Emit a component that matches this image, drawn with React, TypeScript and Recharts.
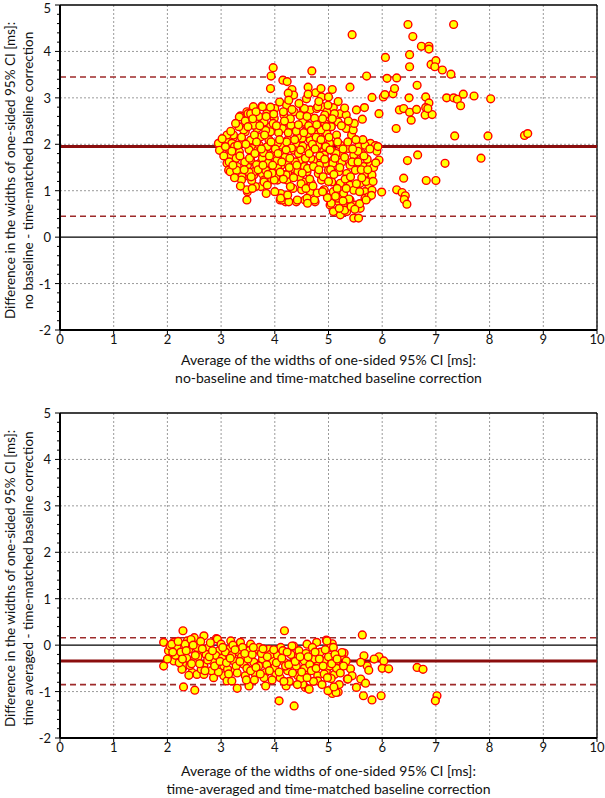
import React from "react";
import {
  ScatterChart,
  Scatter,
  XAxis,
  YAxis,
  CartesianGrid,
  ReferenceLine,
  Label,
} from "recharts";

// [average, difference] pairs
const topPoints: [number, number][] = [
  [6.48, 4.58], [7.33, 4.58], [5.44, 4.36], [6.57, 4.32], [6.73, 4.11], [6.87, 4.11], [6.87, 4.05],
  [6.06, 3.87], [6.51, 3.93], [6.51, 3.67], [6.91, 3.72], [7.0, 3.8], [6.98, 3.67], [7.12, 3.6],
  [7.28, 3.51], [4.69, 3.58], [5.71, 3.47], [6.09, 3.42], [6.27, 3.43], [6.65, 3.27], [5.4, 3.23],
  [4.62, 3.23], [5.07, 3.18], [4.76, 3.11], [4.86, 3.2], [4.87, 3.02], [5.0, 3.02], [4.59, 2.98],
  [5.81, 3.01], [6.02, 3.02], [6.05, 3.07], [6.2, 3.09], [6.23, 3.2], [6.5, 3.0], [6.81, 3.02],
  [6.87, 2.89], [7.2, 3.0], [7.33, 3.0], [7.4, 2.97], [7.46, 2.83], [7.51, 3.08], [7.71, 3.04],
  [8.02, 2.98], [6.32, 2.74], [6.4, 2.77], [6.51, 2.69], [6.64, 2.75], [6.54, 2.52], [6.81, 2.79],
  [6.8, 2.63], [6.93, 2.64], [6.85, 2.77], [5.52, 2.74], [5.67, 2.79], [5.63, 2.54], [5.94, 2.66],
  [6.26, 2.34], [7.35, 2.18], [7.97, 2.18], [8.65, 2.19], [8.71, 2.23], [6.66, 1.77], [6.47, 1.65],
  [7.17, 1.59], [7.84, 1.7], [6.82, 1.22], [7.0, 1.22], [6.4, 1.27], [6.27, 1.02], [6.37, 0.96],
  [6.43, 0.89], [6.41, 0.81], [6.46, 0.71], [5.99, 0.97], [5.94, 1.66], [5.78, 2.02], [5.89, 1.96],
  [4.53, 2.77], [4.66, 2.74], [4.78, 2.77], [4.88, 2.81], [4.97, 2.7], [5.09, 2.79], [5.22, 2.66],
  [5.33, 2.63], [4.56, 2.52], [4.74, 2.56], [4.93, 2.45], [5.05, 2.38], [5.18, 2.48], [5.33, 2.34],
  [5.43, 2.2], [5.46, 2.31], [4.59, 2.31], [4.81, 2.23], [4.97, 2.23], [4.51, 2.13], [4.66, 2.09],
  [4.85, 2.05], [5.03, 2.02], [5.22, 1.98], [5.37, 1.91], [5.56, 1.95], [5.68, 1.98], [5.87, 1.97],
  [4.69, 1.88], [4.91, 1.84], [5.09, 1.84], [5.25, 1.8], [5.47, 1.77], [5.62, 1.8], [4.53, 1.62],
  [4.72, 1.66], [4.94, 1.59], [5.09, 1.66], [5.25, 1.62], [5.4, 1.55], [5.53, 1.62], [5.65, 1.52],
  [5.78, 1.55], [4.6, 1.41], [4.81, 1.37], [5.0, 1.44], [5.19, 1.41], [5.34, 1.37], [5.5, 1.44],
  [5.68, 1.37], [5.81, 1.34], [4.53, 1.19], [4.68, 1.16], [4.87, 1.23], [5.06, 1.19], [5.22, 1.16],
  [5.4, 1.12], [5.59, 1.16], [5.75, 1.12], [4.66, 0.98], [4.91, 1.01], [5.09, 0.98], [5.28, 0.94],
  [5.47, 1.01], [5.68, 0.98], [5.81, 1.01], [4.56, 0.8], [4.75, 0.76], [5.03, 0.69], [5.19, 0.76],
  [5.28, 0.66], [5.4, 0.8], [5.5, 0.69], [5.59, 0.62], [5.68, 0.84], [5.75, 0.87], [5.22, 0.48],
  [5.47, 0.41], [5.56, 0.41], [5.34, 0.55], [5.09, 0.55],
  [3.97, 3.65], [3.93, 3.47], [3.92, 3.2], [4.15, 3.38], [4.23, 3.35], [4.32, 3.18], [4.35, 3.06],
  [4.25, 3.1], [3.36, 2.61], [3.48, 2.7], [3.6, 2.81], [3.76, 2.82], [4.09, 2.91], [2.95, 2.02],
  [2.97, 1.87], [3.11, 1.59], [3.14, 1.44], [3.11, 2.09], [3.23, 2.15], [3.42, 1.3], [3.49, 0.98],
  [3.48, 0.8], [3.84, 0.94], [4.1, 0.8], [4.19, 0.87], [4.2, 0.76], [4.4, 0.76], [3.92, 1.23],
  [4.05, 1.23], [3.77, 1.36], [3.74, 1.09], [4.23, 1.23], [4.34, 1.05], [3.5, 2.66], [3.34, 2.59],
  [3.63, 2.52], [3.85, 2.66], [4.22, 2.84], [4.0, 2.77], [3.23, 2.2], [3.45, 2.27], [3.67, 2.34],
  [3.92, 2.38], [4.14, 2.41], [4.36, 2.38], [4.55, 2.45], [3.14, 1.91], [3.34, 1.84], [3.58, 1.91],
  [3.86, 1.94], [4.13, 1.98], [4.41, 1.98], [3.3, 1.52], [3.49, 1.55], [3.72, 1.59], [3.9, 1.52],
  [4.12, 1.55], [4.33, 1.48], [4.55, 1.52], [3.17, 1.41], [3.39, 1.3], [3.61, 1.34], [3.8, 1.23],
  [4.02, 1.3], [4.24, 1.37], [4.46, 1.3], [3.48, 1.02], [3.64, 1.09], [4.11, 0.94], [4.14, 0.8],
  [4.26, 0.76], [4.6, 0.84], [4.29, 1.09], [4.5, 1.02], [3.11, 2.2], [3.2, 2.02], [3.17, 1.73],
  [3.29, 1.44], [3.38, 1.23], [3.55, 2.66], [3.77, 2.81], [3.42, 2.31], [3.61, 2.41], [3.8, 2.48],
  [3.99, 2.56], [4.17, 2.63], [4.36, 2.7], [4.55, 2.77], [4.8, 2.81], [4.99, 2.84], [3.55, 2.09],
  [3.74, 2.16], [3.92, 2.27], [4.14, 2.34], [4.3, 2.41], [4.52, 2.48], [4.74, 2.56], [4.93, 2.63],
  [5.11, 2.66], [3.68, 1.87], [3.86, 1.95], [4.05, 2.02], [4.24, 2.09], [4.42, 2.16], [4.61, 2.23],
  [4.86, 2.31], [5.05, 2.38], [3.55, 1.66], [3.77, 1.7], [3.96, 1.77], [4.17, 1.8], [4.36, 1.87],
  [4.58, 1.91], [4.8, 1.98], [5.02, 2.02], [3.61, 1.41], [3.83, 1.44], [4.05, 1.52], [4.24, 1.59],
  [4.46, 1.66], [4.67, 1.7], [4.92, 1.77], [5.14, 1.8], [3.8, 1.19], [3.99, 1.23], [4.21, 1.34],
  [4.43, 1.41], [4.61, 1.48], [4.83, 1.55], [5.08, 1.59], [4.11, 0.84], [4.24, 0.91], [4.42, 0.8],
  [4.61, 0.73], [4.74, 0.8], [4.92, 1.02], [5.05, 0.73], [5.17, 0.84], [5.3, 0.58], [5.42, 0.66],
  [3.05, 1.75], [3.02, 2.12], [3.25, 1.95], [3.28, 1.7], [3.33, 2.38], [3.4, 2.05], [3.44, 1.62],
  [3.52, 1.88], [3.57, 1.22], [3.62, 2.2], [3.66, 1.56], [3.7, 2.6], [3.71, 1.98], [3.79, 1.82],
  [3.83, 2.3], [3.88, 1.6], [3.89, 2.1], [3.95, 1.38], [3.97, 2.45], [4.01, 1.9], [4.04, 1.65],
  [4.07, 2.25], [4.1, 1.4], [4.16, 2.7], [4.19, 1.72], [4.22, 2.05], [4.27, 1.5], [4.29, 2.55],
  [4.31, 1.92], [4.38, 1.62], [4.4, 2.28], [4.44, 1.8], [4.47, 2.62], [4.49, 1.15], [4.52, 1.96],
  [4.57, 1.7], [4.63, 2.4], [4.65, 1.25], [4.7, 2.0], [4.72, 1.52], [4.77, 2.15], [4.79, 0.95],
  [4.84, 1.75], [4.89, 2.55], [4.9, 1.3], [4.95, 1.95], [4.98, 0.85], [5.01, 2.15], [5.04, 1.45],
  [5.12, 1.7], [5.15, 2.2], [5.16, 1.05], [5.2, 0.62], [5.27, 1.9], [5.31, 1.25], [5.36, 2.05],
  [5.38, 0.82], [5.44, 1.62], [5.48, 2.45], [5.52, 1.15], [5.55, 1.85], [5.58, 0.72], [5.61, 1.45],
  [5.64, 2.1], [5.7, 1.2], [5.72, 1.68], [5.8, 0.9], [5.84, 1.5], [5.9, 1.85], [3.58, 1.05],
  [3.86, 1.12], [4.0, 0.98], [3.45, 2.5], [3.65, 2.7], [3.92, 2.8], [4.26, 2.95], [4.45, 2.88],
  [4.62, 3.08], [4.82, 2.92], [5.18, 2.92], [5.3, 2.78], [3.15, 1.62], [3.2, 1.85], [3.25, 1.28],
  [3.36, 1.1], [3.52, 1.4],
  [3.08, 1.95], [3.18, 2.28], [3.22, 1.55], [3.27, 2.45], [3.31, 1.98], [3.35, 1.75], [3.38, 2.15],
  [3.43, 1.45], [3.46, 2.0], [3.5, 2.38], [3.53, 1.7], [3.56, 1.3], [3.59, 2.55], [3.63, 1.8],
  [3.66, 2.05], [3.69, 1.45], [3.72, 2.4], [3.75, 1.9], [3.78, 1.55], [3.81, 2.2], [3.84, 2.6],
  [3.87, 1.35], [3.9, 1.75], [3.93, 2.05], [3.96, 1.55], [3.98, 2.65], [4.03, 2.4], [4.06, 1.8],
  [4.09, 2.1], [4.13, 1.62], [4.16, 1.25], [4.18, 2.5], [4.21, 1.88], [4.25, 2.25], [4.28, 1.7],
  [4.32, 2.75], [4.35, 1.28], [4.37, 2.1], [4.41, 1.55], [4.44, 2.42], [4.48, 1.88], [4.51, 1.38],
  [4.54, 2.25], [4.58, 1.05], [4.6, 2.6], [4.64, 1.8], [4.68, 2.3], [4.71, 1.1], [4.75, 1.9],
  [4.78, 2.42], [4.82, 1.45], [4.86, 2.1], [4.89, 0.98], [4.93, 1.68], [4.96, 2.38], [5.0, 1.2],
  [5.03, 1.88], [5.07, 2.55], [5.1, 1.35], [5.13, 0.88], [5.17, 2.05], [5.21, 1.5], [5.24, 2.4],
  [5.27, 0.78], [5.3, 1.72], [5.33, 1.05], [5.37, 2.5], [5.41, 1.3], [5.45, 1.9], [5.49, 0.6],
  [5.51, 2.1], [5.55, 1.62], [5.58, 0.98], [5.62, 1.28], [5.66, 1.75], [5.7, 0.8], [5.73, 1.45],
  [5.77, 1.9], [5.83, 1.2], [5.88, 1.6], [5.92, 1.95],
];

const bottomPoints: [number, number][] = [
  [1.93, -0.45], [2.29, 0.31], [2.3, -0.9], [2.51, -0.97], [3.3, -0.93], [4.08, -1.2], [4.36, -1.31],
  [4.18, 0.31], [4.35, -0.02], [1.93, 0.06], [2.68, 0.2], [2.91, 0.14], [2.29, -0.48], [2.46, -0.59],
  [2.55, -0.63], [5.63, 0.22], [4.96, 0.11], [5.07, 0.03], [5.04, -0.05], [5.29, -0.17], [5.24, -0.23],
  [5.66, -0.23], [5.94, -0.25], [5.85, -0.3], [6.03, -0.34], [6.0, -0.5], [6.12, -0.51], [5.72, -0.45],
  [5.75, -0.54], [5.6, -0.37], [5.41, -0.51], [5.44, -0.66], [5.35, -0.73], [5.6, -0.73], [5.69, -0.82],
  [6.65, -0.48], [6.76, -0.52], [5.65, -1.09], [5.98, -1.09], [5.81, -1.18], [7.02, -1.09], [6.99, -1.2],
  [5.07, -1.04], [5.18, -1.01], [4.57, -0.91], [4.63, -0.94],
  [2.12, 0.06], [2.37, 0.09], [2.5, 0.16], [2.93, 0.13], [3.18, 0.09], [3.36, 0.06], [3.55, 0.02],
  [2.02, -0.12], [2.21, -0.2], [2.4, -0.09], [2.59, -0.16], [2.77, -0.05], [2.96, -0.12], [3.15, -0.09],
  [3.33, -0.16], [3.52, -0.12], [3.67, -0.09], [2.12, -0.34], [2.3, -0.41], [2.49, -0.34], [2.68, -0.45],
  [2.86, -0.37], [3.05, -0.45], [3.24, -0.34], [3.42, -0.41], [3.61, -0.37], [2.27, -0.52], [2.68, -0.63],
  [2.86, -0.7], [3.05, -0.66], [3.24, -0.55], [3.45, -0.66], [3.64, -0.63], [3.11, -0.77], [3.2, -0.77],
  [3.52, -0.88], [3.71, -0.05], [3.89, -0.09], [4.11, -0.05], [4.32, -0.02], [4.6, 0.02], [4.78, 0.06],
  [4.97, 0.09], [5.09, -0.05], [5.25, -0.16], [3.77, -0.3], [3.96, -0.34], [4.18, -0.37], [4.36, -0.27],
  [4.55, -0.34], [4.74, -0.3], [4.92, -0.34], [5.14, -0.37], [5.33, -0.34], [3.83, -0.59], [4.02, -0.63],
  [4.24, -0.55], [4.43, -0.66], [4.61, -0.59], [4.8, -0.66], [4.96, -0.55], [5.11, -0.63], [3.83, -0.88],
  [4.21, -0.88], [4.52, -0.84], [4.64, -0.95], [4.8, -0.77], [4.99, -0.98], [5.14, -1.02], [5.36, -0.73],
  [5.52, -0.91],
  [2.05, -0.02], [2.15, -0.22], [2.18, -0.05], [2.25, -0.15], [2.33, 0.02], [2.36, -0.28], [2.42, -0.44],
  [2.44, 0.12], [2.55, -0.05], [2.57, -0.25], [2.62, 0.08], [2.63, -0.52], [2.72, -0.2], [2.75, -0.32],
  [2.8, 0.05], [2.82, -0.55], [2.9, -0.22], [2.95, -0.58], [3.0, 0.02], [3.02, -0.28], [3.08, -0.15],
  [3.12, -0.52], [3.2, -0.22], [3.22, 0.0], [3.28, -0.45], [3.38, -0.25], [3.4, -0.05], [3.48, -0.5],
  [3.5, -0.3], [3.58, -0.2], [3.62, -0.75], [3.7, -0.45], [3.75, -0.18], [3.8, -0.7], [3.85, -0.42],
  [3.92, -0.2], [3.95, -0.75], [4.0, -0.48], [4.05, -0.22], [4.1, -0.7], [4.15, -0.12], [4.2, -0.45],
  [4.27, -0.78], [4.3, -0.2], [4.4, -0.45], [4.45, -0.12], [4.48, -0.72], [4.55, -0.5], [4.58, -0.18],
  [4.65, -0.42], [4.7, -0.05], [4.72, -0.78], [4.8, -0.45], [4.85, -0.15], [4.88, -0.85], [4.92, -0.62],
  [5.0, -0.25], [5.02, -0.45], [5.05, -0.72], [5.12, -0.2], [5.15, -0.5], [5.2, -0.85], [2.0, -0.3],
  [2.08, 0.02], [2.22, -0.38], [2.4, -0.65],
  [2.1, -0.15], [2.2, 0.08], [2.28, -0.3], [2.35, -0.12], [2.45, -0.4], [2.48, 0.0], [2.52, -0.22],
  [2.6, -0.4], [2.65, -0.08], [2.7, -0.55], [2.78, -0.25], [2.84, -0.12], [2.88, -0.45], [2.98, -0.35],
  [3.03, -0.05], [3.1, -0.38], [3.14, -0.62], [3.17, -0.28], [3.26, -0.1], [3.3, -0.6], [3.35, -0.35],
  [3.44, -0.18], [3.47, -0.75], [3.55, -0.55], [3.6, -0.05], [3.65, -0.48], [3.73, -0.62], [3.78, -0.08],
  [3.86, -0.25], [3.9, -0.55], [3.98, -0.1], [4.03, -0.38], [4.08, -0.58], [4.13, -0.28], [4.17, -0.78],
  [4.23, -0.15], [4.26, -0.42], [4.33, -0.6], [4.38, -0.35], [4.42, -0.85], [4.47, -0.25], [4.5, -0.58],
  [4.6, -0.7], [4.62, -0.25], [4.68, -0.55], [4.75, -0.15], [4.77, -0.5], [4.83, -0.3], [4.9, -0.45],
  [4.94, -0.1], [4.98, -0.7], [5.06, -0.4], [5.1, -0.9], [5.16, -0.3], [5.22, -0.6], [5.28, -0.45],
];

// mean and limits of agreement
const topLimits = { mean: 1.95, upper: 3.45, lower: 0.45 };
const bottomLimits = { mean: -0.34, upper: 0.16, lower: -0.85 };

const xTicks = [0, 1, 2, 3, 4, 5, 6, 7, 8, 9, 10];
const yMinor = [
  -2, -1.8, -1.6, -1.4, -1.2, -1, -0.8, -0.6, -0.4, -0.2, 0, 0.2, 0.4, 0.6, 0.8, 1, 1.2, 1.4, 1.6,
  1.8, 2, 2.2, 2.4, 2.6, 2.8, 3, 3.2, 3.4, 3.6, 3.8, 4, 4.2, 4.4, 4.6, 4.8, 5,
];
const gridY = [-1, 1, 2, 3, 4];

const yLabelLine1 = "Difference in the widths of one-sided 95% CI [ms]:";
const xLabelLine1 = "Average of the widths of one-sided 95% CI [ms]:";

const FONT = "Lato, 'Open Sans', sans-serif";

const Dot = (props: any) => (
  <circle cx={props.cx} cy={props.cy} r={3.9} fill="#FFFF00" stroke="#FF0000" strokeWidth={1.4} />
);

const YTick = (props: any) => {
  const { y, payload } = props;
  const v = payload.value;
  const major = Math.abs(v - Math.round(v)) < 1e-6;
  return (
    <g>
      <line x1={60} x2={major ? 55 : 57} y1={y} y2={y} stroke="#000" strokeWidth={1} />
      {major && (
        <text x={51} y={Math.max(y, 8)} textAnchor="end" dominantBaseline="central" fontSize={13} fill="#111" fontFamily={FONT}>
          {Math.round(v)}
        </text>
      )}
    </g>
  );
};

const XTick = (props: any) => {
  const { x, y, payload } = props;
  return (
    <g>
      <line x1={x} x2={x} y1={y - 8} y2={y - 4} stroke="#000" strokeWidth={1} />
      <text x={x} y={y + 6} textAnchor="middle" fontSize={13} fill="#111" fontFamily={FONT}>
        {payload.value}
      </text>
    </g>
  );
};

type PanelProps = {
  points: [number, number][];
  limits: { mean: number; upper: number; lower: number };
  height: number;
  top: number;
  xAxisHeight: number;
  yLine2: string;
  xLine2: string;
  xLabelOffset: number;
};

const Panel = ({ points, limits, height, top, xAxisHeight, yLine2, xLine2, xLabelOffset }: PanelProps) => {
  const data = points.map(([x, y]) => ({ x, y }));
  return (
    <ScatterChart width={605} height={height} margin={{ top, right: 8, bottom: 0, left: 0 }}>
      <CartesianGrid horizontal={false} stroke="#9a9a9a" strokeDasharray="2 2" />
      {gridY.map((v) => (
        <ReferenceLine key={v} y={v} stroke="#9a9a9a" strokeDasharray="2 2" />
      ))}
      <XAxis
        type="number"
        dataKey="x"
        domain={[0, 10]}
        ticks={xTicks}
        allowDataOverflow
        height={xAxisHeight}
        axisLine={{ stroke: "#000", strokeWidth: 2 }}
        tickLine={false}
        tick={<XTick />}
        interval={0}
      >
        <Label
          content={(p: any) => {
            const vb = p.viewBox;
            const cx = vb.x + vb.width / 2;
            return (
              <g fontFamily={FONT} fontSize={14} fill="#111" textAnchor="middle">
                <text x={cx} y={vb.y + xLabelOffset}>{xLabelLine1}</text>
                <text x={cx} y={vb.y + xLabelOffset + 17.5}>{xLine2}</text>
              </g>
            );
          }}
        />
      </XAxis>
      <YAxis
        type="number"
        dataKey="y"
        domain={[-2, 5]}
        ticks={yMinor}
        allowDataOverflow
        width={60}
        interval={0}
        axisLine={{ stroke: "#000", strokeWidth: 2 }}
        tickLine={false}
        tick={<YTick />}
      >
        <Label
          content={(p: any) => {
            const vb = p.viewBox;
            const cy = vb.y + vb.height / 2 + 3;
            return (
              <g fontFamily={FONT} fontSize={13.5} fill="#111" textAnchor="middle">
                <text x={10} y={cy} dominantBaseline="central" transform={`rotate(-90 10 ${cy})`}>
                  {yLabelLine1}
                </text>
                <text x={27.5} y={cy} dominantBaseline="central" transform={`rotate(-90 27.5 ${cy})`}>
                  {yLine2}
                </text>
              </g>
            );
          }}
        />
      </YAxis>
      <ReferenceLine y={5} stroke="#000" strokeWidth={1.3} />
      <ReferenceLine x={10} stroke="#000" strokeWidth={1.3} />
      <ReferenceLine y={0} stroke="#000" strokeWidth={1.3} />
      <ReferenceLine y={limits.upper} stroke="#9e2a2a" strokeWidth={1.6} strokeDasharray="6 4" />
      <ReferenceLine y={limits.lower} stroke="#9e2a2a" strokeWidth={1.6} strokeDasharray="6 4" />
      <ReferenceLine y={limits.mean} stroke="#8b0d0d" strokeWidth={3} />
      <Scatter data={data} shape={<Dot />} isAnimationActive={false} />
    </ScatterChart>
  );
};

export default function App() {
  return (
    <div style={{ position: "absolute", left: 0, top: 0, width: 605, height: 798, background: "#fff" }}>
      <Panel
        points={topPoints}
        limits={topLimits}
        height={400}
        top={5}
        xAxisHeight={70}
        yLine2="no baseline - time-matched baseline correction"
        xLine2="no-baseline and time-matched baseline correction"
        xLabelOffset={35}
      />
      <Panel
        points={bottomPoints}
        limits={bottomLimits}
        height={398}
        top={13}
        xAxisHeight={60}
        yLine2="time averaged  - time-matched baseline correction"
        xLine2="time-averaged and time-matched baseline correction"
        xLabelOffset={38}
      />
    </div>
  );
}
